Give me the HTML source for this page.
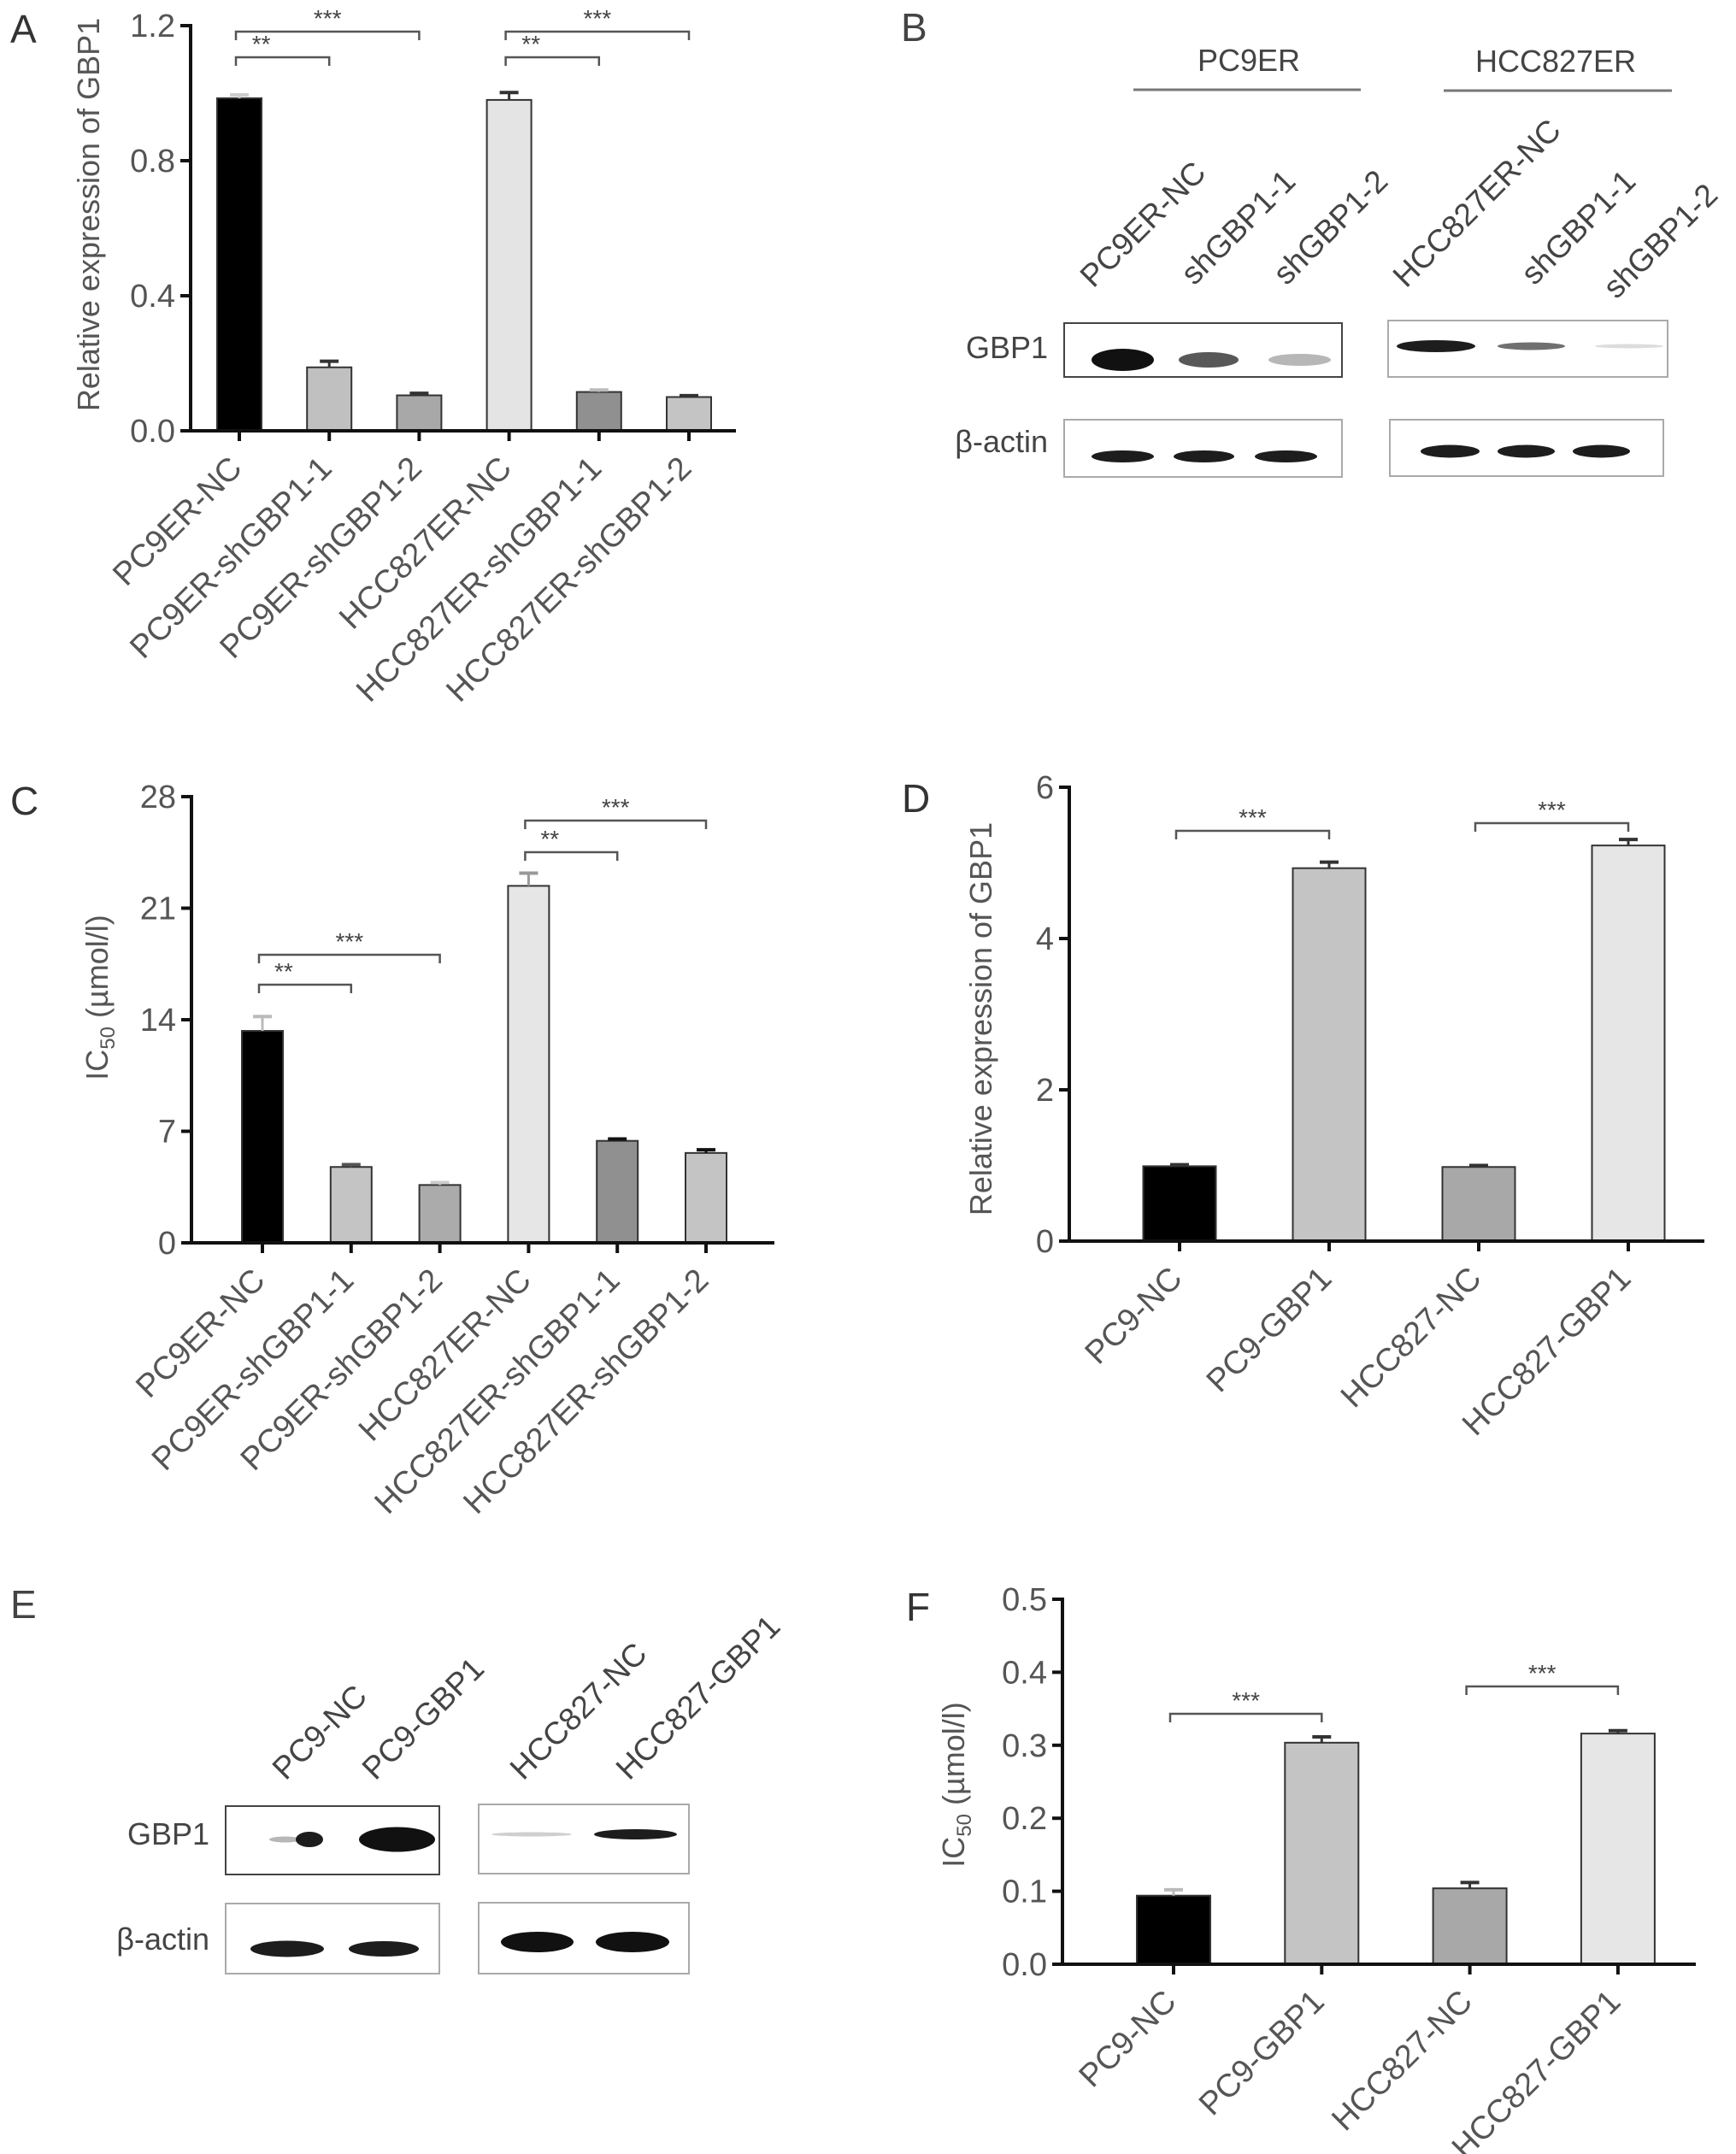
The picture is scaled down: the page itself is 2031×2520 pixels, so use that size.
<!DOCTYPE html>
<html><head><meta charset="utf-8"><style>
html,body{margin:0;padding:0;background:#fff;overflow:hidden;}
svg{display:block;font-family:"Liberation Sans",sans-serif;}
</style></head><body>
<svg id="fig" width="2031" height="2520" viewBox="0 0 2031 2520" xmlns="http://www.w3.org/2000/svg">
<g id="blots"></g>
</svg>
<script>
// ---------- Panel A data ----------
const aCategories = ["PC9ER-NC","PC9ER-shGBP1-1","PC9ER-shGBP1-2","HCC827ER-NC","HCC827ER-shGBP1-1","HCC827ER-shGBP1-2"];
const aValues = [0.985, 0.188, 0.105, 0.98, 0.115, 0.10];
const aErrors = [0.01, 0.018, 0.006, 0.022, 0.006, 0.004];
const aTicks = [0, 0.4, 0.8, 1.2];
const aTickLabels = ["0.0","0.4","0.8","1.2"];
// ---------- Panel C data ----------
const cCategories = ["PC9ER-NC","PC9ER-shGBP1-1","PC9ER-shGBP1-2","HCC827ER-NC","HCC827ER-shGBP1-1","HCC827ER-shGBP1-2"];
const cValues = [13.3, 4.76, 3.63, 22.4, 6.4, 5.64];
const cErrors = [0.9, 0.15, 0.15, 0.8, 0.12, 0.2];
const cTicks = [0, 7, 14, 21, 28];
const cTickLabels = ["0","7","14","21","28"];
// ---------- Panel D data ----------
const dCategories = ["PC9-NC","PC9-GBP1","HCC827-NC","HCC827-GBP1"];
const dValues = [0.99, 4.93, 0.98, 5.23];
const dErrors = [0.02, 0.08, 0.02, 0.08];
const dTicks = [0, 2, 4, 6];
const dTickLabels = ["0","2","4","6"];
// ---------- Panel F data ----------
const fCategories = ["PC9-NC","PC9-GBP1","HCC827-NC","HCC827-GBP1"];
const fValues = [0.094, 0.3035, 0.104, 0.316];
const fErrors = [0.008, 0.008, 0.008, 0.004];
const fTicks = [0, 0.1, 0.2, 0.3, 0.4, 0.5];
const fTickLabels = ["0.0","0.1","0.2","0.3","0.4","0.5"];

const NS = "http://www.w3.org/2000/svg";
const svg = document.getElementById("fig");
function mk(tag, attrs, parent){
  const e = document.createElementNS(NS, tag);
  for (const k in attrs) e.setAttribute(k, attrs[k]);
  (parent||svg).appendChild(e);
  return e;
}

function chart(cfg){
  const g = mk("g", {});
  
  
  const y = v => cfg.y0 - (v - cfg.min) / (cfg.max - cfg.min) * (cfg.y0 - cfg.y1);
  const x = i => cfg.xStart + i * cfg.step;
  cfg.values.forEach((v, i) => {
    const cx = x(i), top = y(v);
    const r = mk("rect", {x: cx - cfg.bw/2, y: top, width: cfg.bw, height: cfg.y0 - top, fill: cfg.colors[i], stroke: "#333", "stroke-width": 2}, g);
    
    
    const et = y(v + cfg.errs[i]);
    const ec = cfg.errColors ? cfg.errColors[i] : "#333";
    const e1 = mk("line", {x1: cx, x2: cx, y1: top, y2: et, stroke: ec, "stroke-width": 3}, g);
    
    
    mk("line", {x1: cx - 11, x2: cx + 11, y1: et, y2: et, stroke: ec, "stroke-width": 4}, g);
    mk("line", {x1: cx, x2: cx, y1: cfg.y0, y2: cfg.y0 + 12, stroke: "#111", "stroke-width": 4}, g);
    const lx = cx + 5, ly = cfg.y0 + 46;
    const t = mk("text", {x: lx, y: ly, "text-anchor": "end", "font-size": 38, fill: "#555", transform: `rotate(-45 ${lx} ${ly})`}, g);
    t.textContent = cfg.cats[i];
    
    
  });
  const ya = mk("line", {x1: cfg.x0, x2: cfg.x0, y1: cfg.y1 - 2, y2: cfg.y0 + 2, stroke: "#111", "stroke-width": 4}, g);
  
  
  const xa = mk("line", {x1: cfg.x0 - 12, x2: cfg.xEnd, y1: cfg.y0, y2: cfg.y0, stroke: "#111", "stroke-width": 4}, g);
  
  
  cfg.ticks.forEach((tv, i) => {
    const ty = y(tv);
    mk("line", {x1: cfg.x0 - 12, x2: cfg.x0, y1: ty, y2: ty, stroke: "#111", "stroke-width": 4}, g);
    const t = mk("text", {x: cfg.x0 - 18, y: ty + 13, "text-anchor": "end", "font-size": 38, fill: "#555"}, g);
    t.textContent = cfg.tickLabels[i];
    
    
  });
  const tt = mk("text", {x: cfg.titleX, y: cfg.titleY, "text-anchor": "middle", "font-size": 36, fill: "#555", transform: `rotate(-90 ${cfg.titleX} ${cfg.titleY})`}, g);
  if (cfg.ic50) {
    tt.innerHTML = 'IC<tspan font-size="24" dy="8">50</tspan><tspan dy="-8"> (µmol/l)</tspan>';
  } else tt.textContent = cfg.title;
  
  
  const pl = mk("text", {x: cfg.letterX, y: cfg.letterY, "font-size": 46, fill: "#333"}, g);
  pl.textContent = cfg.letter;
  
  
  cfg.brackets.forEach(b => {
    const xa1 = x(b[0]) - 4, xb = x(b[1]);
    const by = b[2];
    const p = mk("path", {d: `M${xa1} ${by + 10} L${xa1} ${by} L${xb} ${by} L${xb} ${by + 10}`, fill: "none", stroke: "#555", "stroke-width": 2.5}, g);
    
    
    const s = mk("text", {x: (xa1 + xb) / 2 - (b[3].length === 2 ? 25 : 0), y: by - 6, "text-anchor": "middle", "font-size": 28, fill: "#444"}, g);
    s.textContent = b[3];
    
    
  });
}

chart({name: "chart-a", letter: "A", letterX: 12, letterY: 50, cats: aCategories, values: aValues, errs: aErrors,
  ticks: aTicks, tickLabels: aTickLabels, min: 0, max: 1.2, x0: 223, y0: 504, y1: 30, xEnd: 861,
  xStart: 280, step: 105.2, bw: 52, colors: ["#000", "#c0c0c0", "#a8a8a8", "#e4e4e4", "#909090", "#c4c4c4"],
  errColors: ["#ccc", "#333", "#333", "#333", "#bbb", "#333"],
  title: "Relative expression of GBP1", titleX: 116, titleY: 251,
  brackets: [[0, 1, 67, "**"], [0, 2, 37, "***"], [3, 4, 67, "**"], [3, 5, 37, "***"]]});

chart({name: "chart-c", letter: "C", letterX: 12, letterY: 953, cats: cCategories, values: cValues, errs: cErrors,
  ticks: cTicks, tickLabels: cTickLabels, min: 0, max: 28, x0: 224, y0: 1454, y1: 932, xEnd: 906,
  xStart: 307, step: 103.8, bw: 48, colors: ["#000", "#c4c4c4", "#ababab", "#e6e6e6", "#909090", "#c4c4c4"],
  errColors: ["#bbb", "#555", "#ccc", "#999", "#111", "#111"],
  ic50: true, titleX: 126, titleY: 1167,
  brackets: [[0, 1, 1152, "**"], [0, 2, 1117, "***"], [3, 4, 997, "**"], [3, 5, 960, "***"]]});

chart({name: "chart-d", letter: "D", letterX: 1055, letterY: 950, cats: dCategories, values: dValues, errs: dErrors,
  ticks: dTicks, tickLabels: dTickLabels, min: 0, max: 6, x0: 1251, y0: 1452, y1: 921, xEnd: 1994,
  xStart: 1380, step: 175, bw: 85, colors: ["#000", "#c4c4c4", "#a8a8a8", "#e6e6e6"],
  title: "Relative expression of GBP1", titleX: 1160, titleY: 1192,
  brackets: [[0, 1, 972, "***"], [2, 3, 963, "***"]]});

chart({name: "chart-f", letter: "F", letterX: 1060, letterY: 1896, cats: fCategories, values: fValues, errs: fErrors,
  ticks: fTicks, tickLabels: fTickLabels, min: 0, max: 0.5, x0: 1243, y0: 2298, y1: 1871, xEnd: 1984,
  xStart: 1373, step: 173.3, bw: 86, colors: ["#000", "#c4c4c4", "#a8a8a8", "#e6e6e6"],
  errColors: ["#bbb", "#333", "#333", "#333"],
  ic50: true, titleX: 1128, titleY: 2088,
  brackets: [[0, 1, 2005, "***"], [2, 3, 1973, "***"]]});

// ---------- Western blots (B and E) ----------
const blots = document.getElementById("blots");
function txt(x, y, s, size, name, rot, anchor){
  const t = mk("text", {x: x, y: y, "font-size": size, fill: "#444", "text-anchor": anchor || "start"}, blots);
  if (rot) t.setAttribute("transform", `rotate(${rot} ${x} ${y})`);
  t.textContent = s;
  
  
  return t;
}
function box(x1, y1, x2, y2, name, sw){
  const r = mk("rect", {x: x1, y: y1, width: x2 - x1, height: y2 - y1, fill: "#fff", stroke: sw ? "#444" : "#aaa", "stroke-width": sw || 2}, blots);
  
  
}
function band(x1, x2, cy, h, op, name){
  const e = mk("ellipse", {cx: (x1 + x2) / 2, cy: cy, rx: (x2 - x1) / 2, ry: h / 2, fill: "#111", opacity: op}, blots);
  
  
}
// Panel B
txt(1054, 48, "B", 46, "panel-label-b");
txt(1461, 83, "PC9ER", 36, "group-label-pc9er", 0, "middle");
txt(1820, 84, "HCC827ER", 36, "group-label-hcc827er", 0, "middle");
mk("line", {x1: 1326, x2: 1592, y1: 105, y2: 105, stroke: "#777", "stroke-width": 3}, blots);
mk("line", {x1: 1689, x2: 1956, y1: 106, y2: 106, stroke: "#777", "stroke-width": 3}, blots);
[["PC9ER-NC", 1279, 338], ["shGBP1-1", 1397, 335], ["shGBP1-2", 1505, 335], ["HCC827ER-NC", 1645, 338], ["shGBP1-1", 1795, 335], ["shGBP1-2", 1891, 351]]
  .forEach(l => txt(l[1], l[2], l[0], 37, "lane-label", -45));
txt(1226, 419, "GBP1", 36, "row-label-gbp1", 0, "end");
txt(1226, 529, "β-actin", 36, "row-label-beta-actin", 0, "end");
box(1245, 378, 1570, 441, "blot-gbp1-pc9er", 2);
box(1624, 375, 1951, 441, "blot-gbp1-hcc827er");
box(1245, 491, 1570, 558, "blot-actin-pc9er");
box(1626, 491, 1946, 557, "blot-actin-hcc827er");
band(1277, 1350, 421, 26, 1, "band");
band(1379, 1449, 421, 18, 0.7, "band");
band(1484, 1557, 421, 14, 0.3, "band");
band(1634, 1726, 405, 14, 0.95, "band");
band(1752, 1831, 405, 9, 0.6, "band");
band(1866, 1946, 405, 5, 0.15, "band");
[[1277, 1350], [1373, 1444], [1468, 1541]].forEach(b => band(b[0], b[1], 534, 14, 0.95, "band"));
[[1662, 1731], [1752, 1819], [1840, 1907]].forEach(b => band(b[0], b[1], 528, 15, 0.95, "band"));
// Panel E
txt(12, 1893, "E", 46, "panel-label-e");
[["PC9-NC", 334, 2084], ["PC9-GBP1", 439, 2084], ["HCC827-NC", 612, 2084], ["HCC827-GBP1", 736, 2084]]
  .forEach(l => txt(l[1], l[2], l[0], 37, "lane-label", -45));
txt(245, 2158, "GBP1", 36, "row-label-gbp1", 0, "end");
txt(245, 2281, "β-actin", 36, "row-label-beta-actin", 0, "end");
box(264, 2113, 514, 2193, "blot-gbp1-pc9", 2);
box(560, 2111, 806, 2192, "blot-gbp1-hcc827");
box(264, 2227, 514, 2309, "blot-actin-pc9");
box(560, 2226, 806, 2309, "blot-actin-hcc827");
band(346, 378, 2152, 18, 0.95, "band");
band(315, 352, 2152, 7, 0.3, "band");
band(420, 509, 2152, 29, 1, "band");
band(575, 669, 2146, 5, 0.2, "band");
band(695, 792, 2146, 12, 0.95, "band");
band(293, 379, 2280, 19, 0.95, "band");
band(408, 490, 2280, 18, 0.95, "band");
band(586, 671, 2272, 24, 1, "band");
band(697, 783, 2272, 24, 1, "band");
</script>
</body></html>
